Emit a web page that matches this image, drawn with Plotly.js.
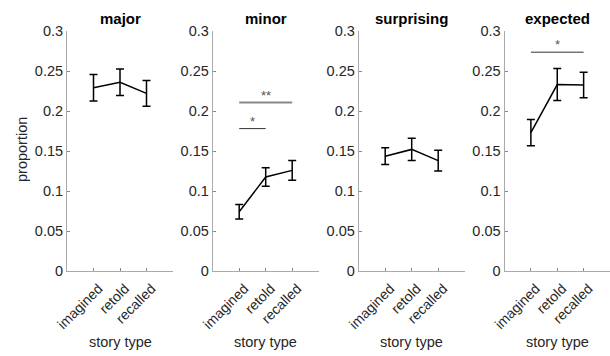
<!DOCTYPE html>
<html><head><meta charset="utf-8">
<script src="https://cdn.plot.ly/plotly-3.0.1.min.js"></script>
<style>body{margin:0;background:#fff}</style>
</head><body><div id="chart" style="width:610px;height:356px"></div>
<script>
const panels = ['major', 'minor', 'surprising', 'expected'];
const storyTypes = ['imagined', 'retold', 'recalled'];
const xPos = [1, 2, 3];
const major = [0.229, 0.236, 0.222];
const majorErr = [0.0165, 0.0165, 0.016];
const minor = [0.074, 0.1175, 0.1258];
const minorErr = [0.009, 0.0117, 0.0123];
const surprising = [0.1435, 0.152, 0.138];
const surprisingErr = [0.0105, 0.0138, 0.013];
const expected = [0.173, 0.233, 0.2325];
const expectedErr = [0.0163, 0.020, 0.0158];
const yTickVals = [0, 0.05, 0.1, 0.15, 0.2, 0.25, 0.3];
const yTickText = ['0', '0.05', '0.1', '0.15', '0.2', '0.25', '0.3'];
// significance brackets
const sigPanel = [2, 2, 4];
const sigFrom = [1, 1, 1];
const sigTo = [2, 3, 3];
const sigY = [0.178, 0.2105, 0.2735];
const sigLabel = ['*', '**', '*'];

const values = [major, minor, surprising, expected];
const errs = [majorErr, minorErr, surprisingErr, expectedErr];

const W = 610, H = 356;
const mL = 67, mR = 0, mT = 31, mB = 85;
const plotW = W - mL - mR, plotH = H - mT - mB;
const panelLeftPx = [67, 212.7, 358.7, 504.5];
const panelWidthPx = 106;
const baseY = H - mB;

const font = 'Liberation Sans, Arial, sans-serif';
const traces = [];
const annotations = [];
const layout = {
  width: W, height: H,
  margin: {l: mL, r: mR, t: mT, b: mB, pad: 0},
  paper_bgcolor: '#fff', plot_bgcolor: '#fff',
  showlegend: false,
  font: {family: font, size: 13, color: '#262626'},
  annotations: annotations
};

panels.forEach((name, i) => {
  const n = i + 1;
  const xa = 'xaxis' + (n === 1 ? '' : n);
  const ya = 'yaxis' + (n === 1 ? '' : n);
  const xr = 'x' + (n === 1 ? '' : n);
  const yr = 'y' + (n === 1 ? '' : n);
  const d0 = (panelLeftPx[i] - mL) / plotW;
  const d1 = Math.min(1, (panelLeftPx[i] + panelWidthPx - mL) / plotW);
  layout[xa] = {
    domain: [d0, d1], range: [0, 4], anchor: yr,
    tickvals: xPos, ticktext: storyTypes, tickangle: -45,
    ticks: 'inside', ticklen: 3, tickcolor: '#888', tickwidth: 1,
    ticklabelstandoff: 3, ticklabelshift: 5,
    showline: true, linecolor: '#aaa', linewidth: 1, mirror: false,
    showgrid: false, zeroline: false, fixedrange: true,
    tickfont: {family: font, size: 14, color: '#262626'}
  };
  layout[ya] = {
    domain: [0, 1], range: [0, 0.3], anchor: xr,
    tickvals: yTickVals, ticktext: yTickText,
    ticks: 'inside', ticklen: 3, tickcolor: '#888', tickwidth: 1,
    showline: true, linecolor: '#aaa', linewidth: 1, mirror: false,
    showgrid: false, zeroline: false, fixedrange: true,
    tickfont: {family: font, size: 14.5, color: '#262626'}
  };
  traces.push({
    type: 'scatter', mode: 'lines', x: xPos, y: values[i],
    xaxis: xr, yaxis: yr,
    line: {color: '#000', width: 1.5},
    error_y: {type: 'data', array: errs[i], visible: true, color: '#000', thickness: 1.5, width: 4},
    hoverinfo: 'skip'
  });
  const cx = (d0 + d1) / 2;
  annotations.push({
    text: '<b>' + name + '</b>', xref: 'paper', yref: 'paper',
    x: cx, y: (baseY - 18.3) / plotH, xanchor: 'center', yanchor: 'middle',
    showarrow: false, font: {family: font, size: 15, color: '#000'}
  });
  annotations.push({
    text: 'story type', xref: 'paper', yref: 'paper',
    x: cx, y: (baseY - 342) / plotH, xanchor: 'center', yanchor: 'middle',
    showarrow: false, font: {family: font, size: 14.5, color: '#262626'}
  });
});

annotations.push({
  text: 'proportion', xref: 'paper', yref: 'paper',
  x: (22 - mL) / plotW, y: (baseY - 150) / plotH, xanchor: 'center', yanchor: 'middle',
  textangle: -90, showarrow: false, font: {family: font, size: 14.5, color: '#262626'}
});

sigPanel.forEach((p, k) => {
  const xr = 'x' + (p === 1 ? '' : p);
  const yr = 'y' + (p === 1 ? '' : p);
  const isDouble = sigLabel[k].length > 1;
  traces.push({
    type: 'scatter', mode: 'lines', x: [sigFrom[k], sigTo[k]], y: [sigY[k], sigY[k]],
    xaxis: xr, yaxis: yr,
    line: {color: isDouble ? '#888' : '#333', width: isDouble ? 2 : 1},
    hoverinfo: 'skip'
  });
  annotations.push({
    text: sigLabel[k], xref: xr, yref: yr,
    x: (sigFrom[k] + sigTo[k]) / 2, y: sigY[k], xanchor: 'center', yanchor: 'bottom',
    yshift: -2, showarrow: false, font: {family: font, size: 13, color: '#555'}
  });
});

Plotly.newPlot('chart', traces, layout, {staticPlot: true, displayModeBar: false});
</script>
</body></html>
